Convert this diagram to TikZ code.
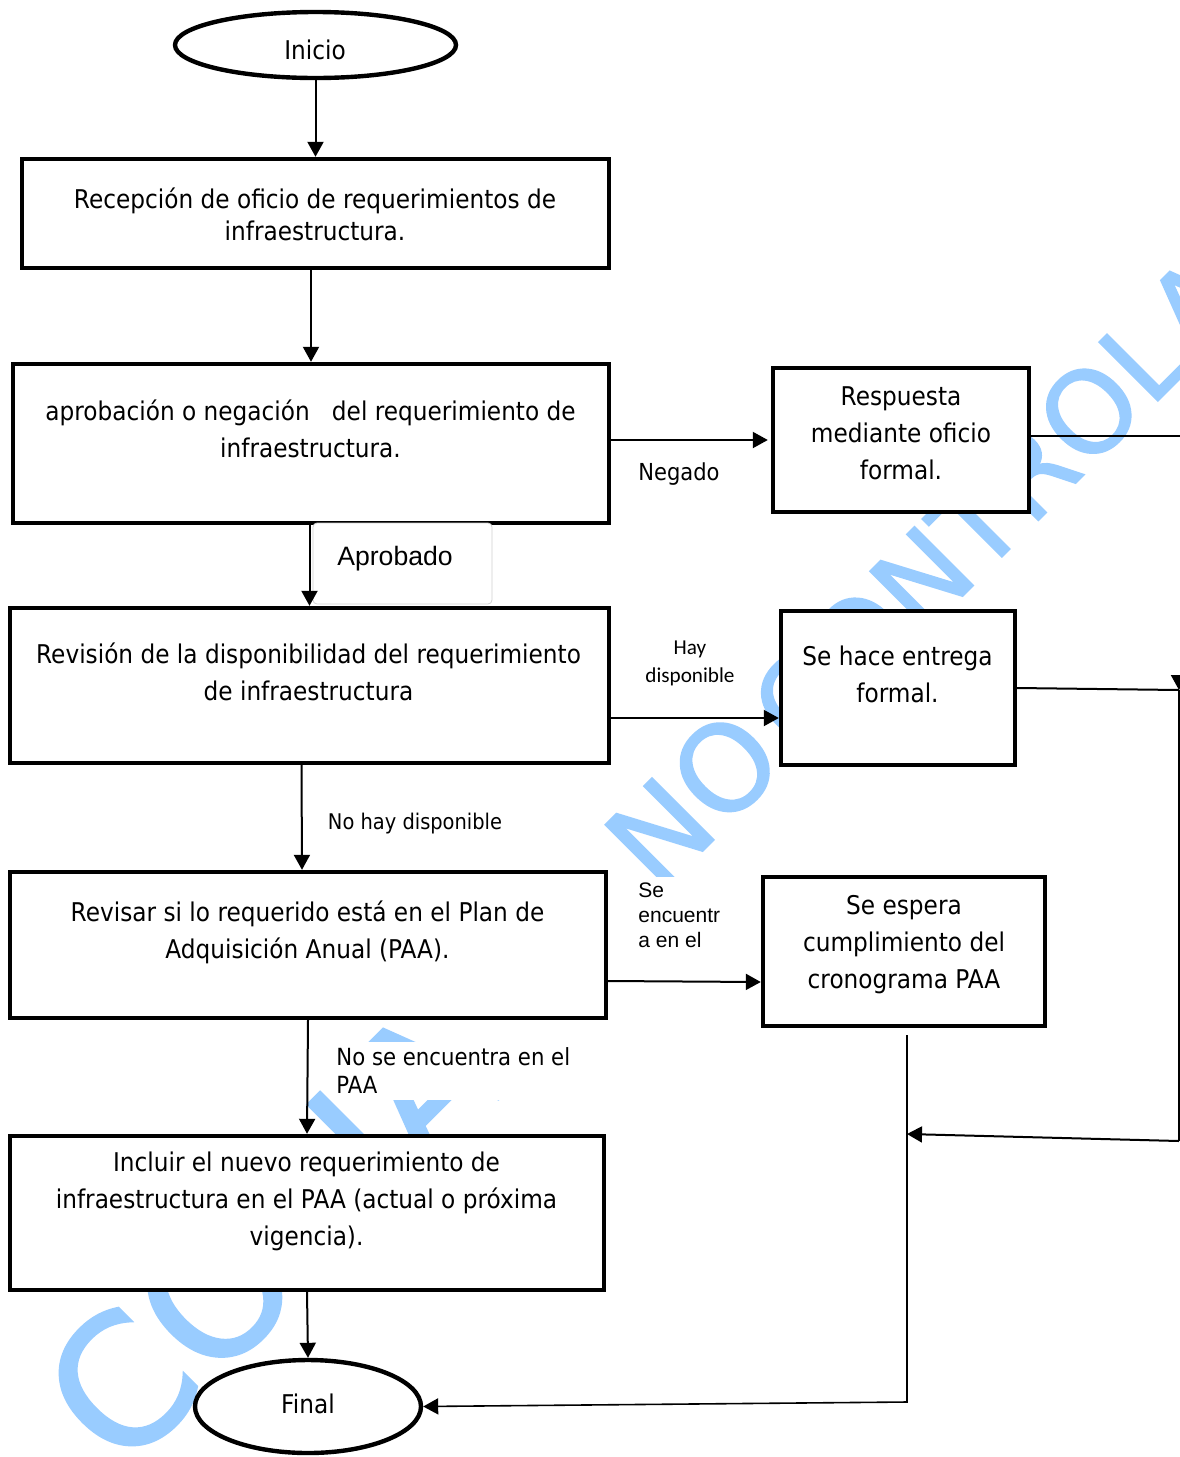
\documentclass[tikz,border=0pt]{standalone}
\usepackage{fontspec}
\setmainfont{DejaVu Sans}[FakeStretch=0.9]
\newfontfamily\wmfont{DejaVu Sans}[FakeBold=1.3]
\newfontfamily\arialf{Liberation Sans}
\newfontfamily\calf{Carlito}
\usetikzlibrary{arrows.meta,shapes.geometric}
\definecolor{wmblue}{RGB}{153,204,255}
\begin{document}
\begin{tikzpicture}[x={(0.5pt,0pt)},y={(0pt,-0.5pt)},
  sz/.style 2 args={minimum width=#1*0.5pt, minimum height=#2*0.5pt},
  box/.style={draw,line width=2.2pt,fill=white,inner sep=0pt},
  term/.style={ellipse,draw,line width=2.2pt,fill=white,inner sep=0pt},
  tt/.style={inner sep=0pt,font=\fontsize{12.9}{15}\selectfont},
  mt/.style={align=center,inner sep=0pt,font=\fontsize{12.9}{18.5}\selectfont},
  lbl/.style={inner sep=0pt,align=center},
  lblw/.style={fill=white,inner sep=3pt,align=center},
  conn/.style={line width=1pt,-{Triangle[length=7.5pt,width=8pt]}},
  plain/.style={line width=1pt},
  lblbox/.style={draw=black!18,line width=0.4pt,fill=white,rounded corners=2pt,inner sep=0pt},
  wm/.style={text=wmblue,inner sep=0pt,rotate=45}
]
\useasboundingbox (0,0) rectangle (1179,1457);
\fill[white] (0,0) rectangle (1179,1457);

% watermark
\node[wm,font=\wmfont\fontsize{90}{100}\selectfont] (wm1) at (271,1234) {COPIA};
\node[wm,font=\wmfont\fontsize{60}{70}\selectfont] (wm2) at (693,799) {NO};
\node[wm,font=\wmfont\fontsize{57}{65}\selectfont] (wm3) at (1055,445) {CONTROLADA};

% terminals
\node[term,sz={281}{66}] (inicio) at (315.5,45) {};
\node[tt] (iniciot) at (315,50) {Inicio};
\node[term,sz={226}{93}] (final) at (308,1406.5) {};
\node[tt] (finalt) at (308,1404) {Final};

% process boxes
\node[box,sz={587}{109}] (recep) at (315.5,213.5) {};
\node[mt,font=\fontsize{12.9}{16}\selectfont] (recept) at (315,214) {Recepción de oficio de requerimientos de\\infraestructura.};

\node[box,sz={596}{159}] (aprob) at (311,443.5) {};
\node[mt] (aprobt) at (310.5,428.5) {aprobación o negación\ \ \ del requerimiento de\\infraestructura.};

\node[lblbox,sz={179}{81}] (aprbg) at (402.5,563.5) {};
\node[lbl,font=\arialf\fontsize{13.3}{16}\selectfont] (aprl) at (395,559) {Aprobado};

\node[box,sz={599}{155}] (revis) at (309.5,685.5) {};
\node[mt] (revist) at (308.5,671.5) {Revisión de la disponibilidad del requerimiento\\de infraestructura};

\node[box,sz={596}{146}] (revpaa) at (308,945) {};
\node[mt] (revpaat) at (307.5,932.5) {Revisar si lo requerido está en el Plan de\\Adquisición Anual (PAA).};

\node[box,sz={594}{154}] (incl) at (307,1213) {};
\node[mt] (inclt) at (306.5,1201) {Incluir el nuevo requerimiento de\\infraestructura en el PAA (actual o próxima\\vigencia).};

\node[box,sz={256}{144}] (resp) at (901,440) {};
\node[mt] (respt) at (901,433) {Respuesta\\mediante oficio\\formal.};

\node[box,sz={234}{154}] (entr) at (898,688) {};
\node[mt] (entrt) at (897.5,674) {Se hace entrega\\formal.};

\node[box,sz={282}{149}] (espera) at (904,951.5) {};
\node[mt] (esperat) at (904,945) {Se espera\\cumplimiento del\\cronograma PAA};

% edge labels
\node[lblw,font=\fontsize{11.7}{14}\selectfont] (negl) at (679,474) {Negado};
\node[lblw,font=\calf\fontsize{10.6}{14}\selectfont] (hayl) at (690,663) {Hay\\disponible};
\node[lblw,font=\fontsize{10.8}{13}\selectfont] (nohayl) at (415,824) {No hay disponible};
\node[lblw,anchor=west,align=left,font=\arialf\fontsize{10.5}{12.5}\selectfont] (seencl) at (632,915) {Se\\encuentr\\a en el};
\node[lblw,anchor=west,align=left,font=\fontsize{11.8}{14}\selectfont] (noencl) at (330,1071) {No se encuentra en el\\PAA};

% free ends
\coordinate (R1) at (1190,436);
\coordinate (R2) at (1179,690);
\coordinate (R2a) at (1179,675);
\coordinate (R3) at (1179,1141);
\coordinate (J1) at (907,1134);
\coordinate (J2) at (907,1402);

% connectors
\draw[conn] (inicio.south) -- (recep.north);
\draw[conn] (recep.south -| aprob.north) -- (aprob.north);
\draw[conn] (aprob.south -| revis.north) -- (revis.north);
\draw[conn] ([xshift=-4pt]revis.south) -- ([xshift=-3pt]revpaa.north);
\draw[conn] (revpaa.south) -- (incl.north);
\draw[conn] (incl.south) -- (final.north);
\draw[conn,shorten >=1.5pt] (aprob.east |- resp.west) -- (resp.west);
\draw[conn] ([yshift=-16.25pt]revis.east) -- ([yshift=-15pt]entr.west);
\draw[conn] ([yshift=-18pt]revpaa.east) -- ([yshift=-15.25pt]espera.west);
\draw[plain] ([yshift=2pt]resp.east) -- (R1);
\draw[plain] (entr.east) -- (R2);
\draw[conn] (R2a) -- (R2);
\draw[line width=1.3pt] (R2) -- (R3);
\draw[conn] (R3) -- (J1);
\draw[conn,line width=0.8pt] ([xshift=1.5pt,yshift=-3.5pt]espera.south) -- (J2) -- (final.east);
\end{tikzpicture}
\end{document}
